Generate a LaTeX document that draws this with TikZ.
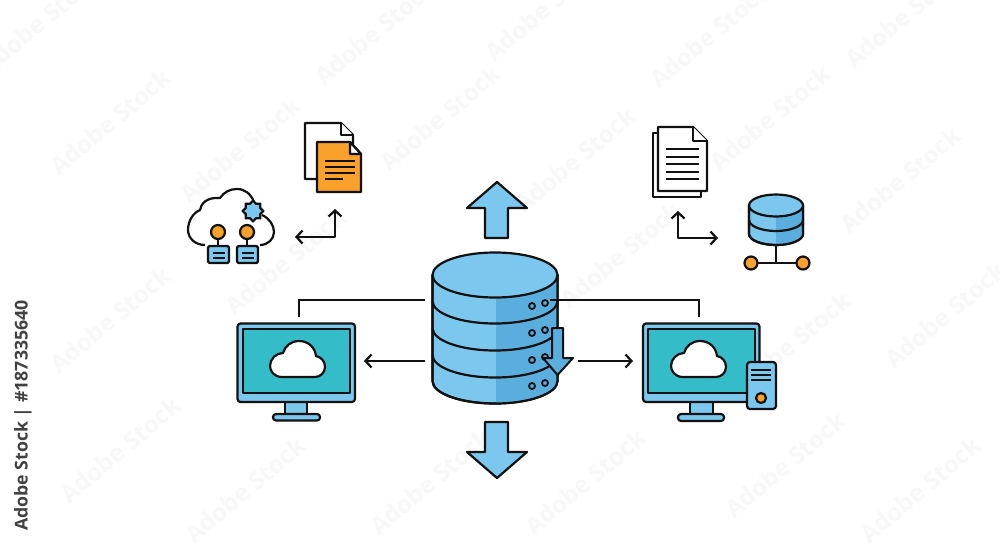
\documentclass[tikz,border=0pt]{standalone}
\usepackage{fontspec}
\setmainfont{Open Sans}
\usetikzlibrary{arrows.meta}
\definecolor{lb}{HTML}{7CC7EE}
\definecolor{db}{HTML}{5AAEDE}
\definecolor{teal}{HTML}{35BCC9}
\definecolor{org}{HTML}{F9A12B}
\definecolor{ink}{HTML}{111111}
\definecolor{wm}{HTML}{F8F8F8}
\tikzset{
  ol/.style={draw=ink,line width=2.2pt,line join=round},
  flow/.style={draw=ink,line width=2.2pt,line join=round,-{Straight Barb[length=6pt,width=13pt,line width=2.2pt]}},
  both flow/.style={draw=ink,line width=2.2pt,line join=round,{Straight Barb[length=6pt,width=13pt,line width=2.2pt]}-{Straight Barb[length=6pt,width=13pt,line width=2.2pt]}},
  thin line/.style={draw=ink,line width=2pt},
  wmark/.style={text=wm,font=\bfseries\fontsize{24}{24}\selectfont,rotate=40,inner sep=0pt},
}
\newcommand{\cloudpath}{(683,377) .. controls (675,377) and (671,371) .. (671,366) .. controls (671,359) and (677,353) .. (684,353) .. controls (686,346) and (692,341) .. (700,341) .. controls (709,341) and (716,347) .. (717,356) .. controls (722,357) and (726,361) .. (726,367) .. controls (726,373) and (721,377) .. (716,377) -- cycle}
\begin{document}
\begin{tikzpicture}[x=1pt,y=-1pt]
\useasboundingbox (0,0) rectangle (1000,546);
\fill[white] (0,0) rectangle (1000,546);
% watermarks
\begin{scope}
\clip (0,0) rectangle (1000,546);
\foreach \i/\p in {a/{40,22},b/{110,122},c/{240,150},d/{375,32},e/{545,8},f/{710,35},g/{905,15},h/{440,118},i/{575,160},j/{770,118},k/{900,180},l/{285,262},m/{620,255},n/{945,315},o/{110,320},p/{120,450},q/{245,490},r/{430,482},s/{585,482},t/{785,465},u/{920,490},v/{790,345}}{
  \node[wmark] (wm\i) at (\p) {Adobe Stock};
}
\end{scope}
\node[rotate=90,text=ink!80,inner sep=0pt,font=\bfseries\fontsize{17.7}{17.7}\selectfont] (stock) at (23,415.5) {Adobe Stock | \#187335640};

% central database
\path[ol,fill=lb] (432.5,275) -- (432.5,381) arc[start angle=180,end angle=0,x radius=62.5,y radius=22.5] -- (557.5,275) -- cycle;
\fill[db] (496,297.5) -- (496,403.5) arc[start angle=90,end angle=0,x radius=61.5,y radius=22.5] -- (557.5,275) -- cycle;
\path[ol] (432.5,275) -- (432.5,381) arc[start angle=180,end angle=0,x radius=62.5,y radius=22.5] -- (557.5,275) -- cycle;
\foreach \cy in {301,328,355}{
  \draw[ol] (432.5,\cy) arc[start angle=180,end angle=0,x radius=62.5,y radius=22.5];
}
\path[ol,fill=lb] (495,275) ellipse[x radius=62.5,y radius=22.5];
\foreach \dy in {306,333,360,386}{
  \draw[ink,line width=1.8pt] (532,\dy) circle[radius=3] (545,\dy-3) circle[radius=3];
}
\path[ol,fill=db,line width=2pt] (552,328) -- (563,328) -- (563,358) -- (573,358) -- (557.5,375) -- (543,358) -- (552,358) -- cycle;

% big arrows
\path[ol,fill=lb] (497,182) -- (527,208) -- (508,208) -- (508,238) -- (485,238) -- (485,208) -- (467,208) -- cycle;
\path[ol,fill=lb] (497,478) -- (527,452) -- (508,452) -- (508,422) -- (485,422) -- (485,452) -- (467,452) -- cycle;

% connectors
\coordinate (l1) at (425,300);
\coordinate (l2) at (299,317);
\coordinate (r1) at (550,300);
\coordinate (r2) at (699,317);
\draw[thin line] (l1) -| (l2);
\draw[thin line] (r1) -| (r2);
\coordinate (la) at (425,361);
\coordinate (lb1) at (364,361);
\coordinate (ra) at (578,361);
\coordinate (rb1) at (633,361);
\draw[flow] (la) -- (lb1);
\draw[flow] (ra) -- (rb1);

% left monitor
\path[ol,fill=lb] (285,400) rectangle (307,415);
\path[ol,fill=lb,rounded corners=3pt] (273,414) rectangle (320,420.5);
\path[ol,fill=lb,rounded corners=3pt] (237.5,323.5) rectangle (355,402);
\path[ol,fill=teal] (243,329) rectangle (350,393);
\begin{scope}[xshift=-401pt]
\path[ol,fill=white] \cloudpath;
\end{scope}

% right monitor
\path[ol,fill=lb] (690,400) rectangle (713,415);
\path[ol,fill=lb,rounded corners=3pt] (678,414) rectangle (724,421);
\path[ol,fill=lb,rounded corners=3pt] (643,323.5) rectangle (759.5,402);
\path[ol,fill=teal] (648,329) rectangle (755,393);
\path[ol,fill=white] \cloudpath;
\path[ol,fill=lb,rounded corners=3pt] (747,362) rectangle (776,409);
\foreach \ty in {370,375,380}{\draw[ink,line width=1.6pt] (751,\ty) -- (771,\ty);}
\path[ol,fill=org] (761,398) circle[radius=5];

% top-left documents
\path[ol,fill=white] (317,179) -- (305,179) -- (305,123) -- (341,123) -- (353,135) -- (353,145);
\path[ol,fill=white] (341,123) -- (341,135) -- (353,135);
\path[ol,fill=org] (317,142) -- (350,142) -- (361,154) -- (361,192) -- (317,192) -- cycle;
\path[ol,fill=white] (350,142) -- (350,154) -- (361,154) -- cycle;
\foreach \ty/\tx in {161/355,167/355,173/355,179/343}{\draw[ink,line width=1.7pt] (325,\ty) -- (\tx,\ty);}

% cloud with gear
\path[ol] (205,245) .. controls (195,245) and (188,238) .. (188,230) .. controls (188,221) and (193,213) .. (200,210) .. controls (201,204) and (206,197) .. (220,198) .. controls (224,192) and (230,189) .. (237,189) .. controls (245,189) and (251,194) .. (254,202);
\path[ol] (262,215) .. controls (269,218) and (274,225) .. (274,232) .. controls (274,239) and (268,245) .. (260,245);
\path[ol,fill=lb] plot[smooth cycle,tension=0.5,samples at={0,22.5,...,337.5},variable=\a] ({253+(mod(round(\a/22.5),2)==0?10.4:7.8)*cos(\a)},{211+(mod(round(\a/22.5),2)==0?10.4:7.8)*sin(\a)});
\foreach \cx/\bl/\br in {218/208/229,247/237/258}{
  \draw[ink,line width=1.6pt] (\cx,238) -- (\cx,247);
  \path[ol,fill=org] (\cx,232) circle[radius=7];
  \path[ol,fill=lb,rounded corners=1.5pt] (\bl,246) rectangle (\br,263);
  \draw[ink,line width=1.5pt] (\bl+5,253) -- (\br-4,253) (\bl+5,258) -- (\br-4,258);
}
\coordinate (tl0) at (335,209);
\coordinate (tl1) at (335,237);
\coordinate (tl2) at (295,237);
\draw[both flow] (tl0) -- (tl1) -- (tl2);

% top-right documents
\path[ol,fill=white] (658,133) -- (653,133) -- (653,197) -- (701,197) -- (701,191);
\path[ol,fill=white] (658,127) -- (693,127) -- (707,141) -- (707,191) -- (658,191) -- cycle;
\path[ol,fill=white] (693,127) -- (693,141) -- (707,141);
\foreach \ty in {149,157,164,172,179}{\draw[ink,line width=1.7pt] (666,\ty) -- (699,\ty);}
\coordinate (tr0) at (678,211);
\coordinate (tr1) at (678,238);
\coordinate (tr2) at (718,238);
\draw[both flow] (tr0) -- (tr1) -- (tr2);

% small database
\draw[ink,line width=2pt] (776,245) -- (776,263);
\draw[ink,line width=2pt] (751,263) -- (803,263);
\path[ol,fill=lb] (749,205.5) -- (749,234) arc[start angle=180,end angle=0,x radius=27,y radius=11] -- (803,205.5) -- cycle;
\fill[db] (776,216.5) -- (776,245) arc[start angle=90,end angle=0,x radius=27,y radius=11] -- (803,205.5) -- cycle;
\path[ol] (749,205.5) -- (749,234) arc[start angle=180,end angle=0,x radius=27,y radius=11] -- (803,205.5) -- cycle;
\draw[ol] (749,220) arc[start angle=180,end angle=0,x radius=27,y radius=11];
\path[ol,fill=lb] (776,205.5) ellipse[x radius=27,y radius=11];
\path[ol,fill=org] (751,263) circle[radius=6.5];
\path[ol,fill=org] (803,263) circle[radius=6.5];
\end{tikzpicture}
\end{document}
